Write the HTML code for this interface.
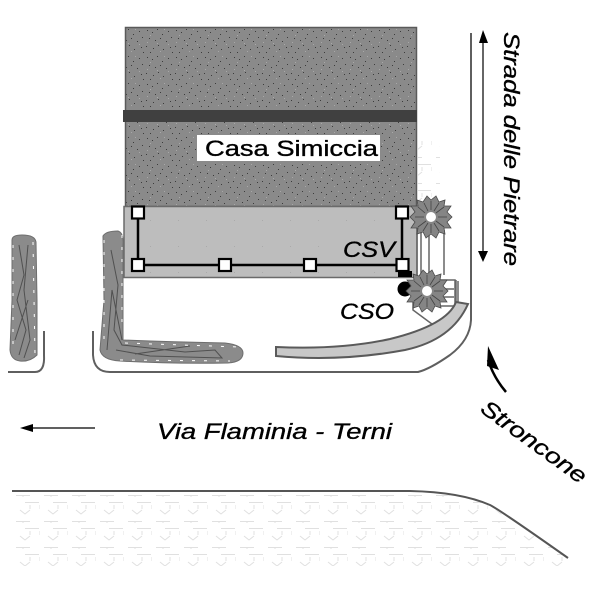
<!DOCTYPE html>
<html><head><meta charset="utf-8"><style>html,body{margin:0;padding:0;background:#fff}svg{display:block}text{font-family:"Liberation Sans",sans-serif;fill:#000;stroke:#000;stroke-width:.35px}</style></head><body>
<svg width="600" height="600" viewBox="0 0 600 600" xmlns="http://www.w3.org/2000/svg">
<defs>
<pattern id="spk" width="29" height="27" patternUnits="userSpaceOnUse">
<rect width="29" height="27" fill="#8a8a8a"/>
<g fill="#3c3c3c"><rect x="2" y="3" width="1" height="1"/><rect x="7" y="5" width="1" height="1"/><rect x="12" y="2" width="1" height="1"/><rect x="17" y="7" width="1" height="1"/><rect x="23" y="4" width="1" height="1"/><rect x="4" y="11" width="1" height="1"/><rect x="10" y="13" width="1" height="1"/><rect x="15" y="11" width="1" height="1"/><rect x="21" y="14" width="1" height="1"/><rect x="26" y="10" width="1" height="1"/><rect x="1" y="19" width="1" height="1"/><rect x="8" y="21" width="1" height="1"/><rect x="13" y="18" width="1" height="1"/><rect x="18" y="22" width="1" height="1"/><rect x="25" y="20" width="1" height="1"/><rect x="5" y="25" width="1" height="1"/><rect x="27" y="25" width="1" height="1"/></g>
<g fill="#a8a8a8"><rect x="5" y="8" width="1" height="1"/><rect x="19" y="2" width="1" height="1"/><rect x="12" y="16" width="1" height="1"/><rect x="23" y="17" width="1" height="1"/><rect x="2" y="15" width="1" height="1"/><rect x="15" y="24" width="1" height="1"/></g>
</pattern>
<pattern id="grs" x="12" y="495" width="28" height="26" patternUnits="userSpaceOnUse">
<g stroke="#e0e0e0" stroke-width="1" fill="none"><path d="M4 .5H18M11 0V2M-6 7.5H0M13 7.5H27M18 10V14M28 10V14M8 15L13 19L18 15"/></g>
</pattern>
<pattern id="dot" x="124" y="206" width="28" height="26" patternUnits="userSpaceOnUse">
<rect x="26" y="14" width="1" height="1" fill="#aaa"/>
</pattern>
<g id="tree" fill="#858585" stroke="#4a4a4a" stroke-width=".8">
<path d="M-4-21L0-17L5-21L8-15L14-17L13-11L20-11L16-5L21 0L16 5L20 11L13 11L14 17L8 15L5 21L0 17L-5 21L-8 15L-14 17L-13 11L-20 11L-16 5L-21 0L-16-5L-20-11L-13-11L-14-17L-8-15Z"/>
<circle r="5" fill="#fff" stroke="none"/>
<path d="M-13-10L-6-4M13-10L5-4M13 10L5 4M-13 10L-5 4M0-16V-7M0 16V7M-16 0H-7M16 0H7M-7-14L-3-6M8-14L3-6M-8 14L-3 6M8 14L3 6" fill="none" stroke="#444"/>
</g>
<g id="hd"><rect x="-6" y="-6" width="12" height="12" fill="#fff" stroke="#000" stroke-width="2.200"/></g>
</defs>
<rect width="600" height="600" fill="#fff"/>

<path d="M15 492H412Q460 494 490 506L566 557V568H15Z" fill="url(#grs)"/>
<rect x="0" y="566" width="600" height="34" fill="#fff"/>
<path d="M12 491H410Q460 492 490 505Q500 510 568 558" fill="none" stroke="#555" stroke-width="2"/>

<path d="M418 140H440V200H418Z" fill="url(#grs)"/>

<rect x="125.500" y="27.500" width="291" height="179" fill="url(#spk)" stroke="#5a5a5a" stroke-width="1.500"/>
<rect x="123" y="110" width="294" height="12" fill="#404040"/>
<rect x="197" y="135" width="183" height="26" fill="#fff"/>
<text x="205" y="156" font-size="22.500" textLength="173" lengthAdjust="spacingAndGlyphs">Casa Simiccia</text>

<rect x="124" y="206.500" width="293" height="71" fill="#bdbdbd" stroke="#6a6a6a" stroke-width="1.500"/>
<rect x="124" y="207" width="293" height="70" fill="url(#dot)"/>
<path d="M138 212V265H402M402 212V265" fill="none" stroke="#000" stroke-width="2.500"/>
<use href="#hd" x="138" y="212.500"/><use href="#hd" x="402" y="212.500"/>
<use href="#hd" x="138" y="265"/><use href="#hd" x="225" y="265"/><use href="#hd" x="310" y="265"/><use href="#hd" x="402.500" y="265"/>
<rect x="398" y="271" width="14" height="6" fill="#000"/>
<text x="343" y="257" font-size="22" font-style="italic" textLength="52" lengthAdjust="spacingAndGlyphs">CSV</text>
<text x="340" y="319" font-size="22" font-style="italic" textLength="54" lengthAdjust="spacingAndGlyphs">CSO</text>
<circle cx="405" cy="289" r="7.500" fill="#000"/>

<g fill="none" stroke="#666" stroke-width="1.500">
<path d="M417 207V278M421 210V278"/>
<path d="M429 230V275M444 230V275"/>
<path d="M413 300V310L440 330"/>
<path d="M440 280H455V308M456 280V306M440 289H454M440 297H454M440 306H454M458 281V303"/>
</g>
<use href="#tree" x="431" y="217"/>
<use href="#tree" x="427" y="291"/>

<path d="M276 347Q340 350 390 339Q447 325 456 302L468 304Q452 340 405 350Q340 362 276 356Z" fill="#c8c8c8" stroke="#5a5a5a" stroke-width="2"/>

<g fill="none" stroke="#5f5f5f" stroke-width="2">
<path d="M471 33V320Q470 340 450 355Q430 369 418 372H110Q94 372 93 355V331"/>
<path d="M8 372H35Q45 372 44 355V331"/>
</g>

<g fill="#8b8b8b" stroke="#6e6e6e">
<path d="M12 240Q12 235 22 235Q35 235 36 242L37 300L37 355Q30 362 20 361Q11 360 10 350L12 300Z"/>
<path d="M103 236Q106 231 118 231Q124 233 123 245L123 340Q170 342 225 343Q243 345 243 353Q243 362 228 363Q170 364 120 361Q102 360 100 350L104 300Z"/>
</g>
<g fill="none" stroke="#505050" stroke-width="1">
<path d="M19 245L24 275L17 300L26 330L19 355M28 245L24 290L30 340L24 358M15 340L28 300"/>
<path d="M111 250L118 285L114 330L122 345L185 352L215 350L222 358L150 356L116 350M107 350L112 290L122 340M135 354L190 346"/>
</g>
<g fill="none" stroke="#fff" stroke-width="1" stroke-dasharray="3 9">
<path d="M13 245L13 350M33 242L35 355"/>
<path d="M104 240L104 340M122 235L122 330M125 343L240 347M120 360L230 361"/>
</g>

<path d="M483 36V256" stroke="#000" stroke-width="1.200"/>
<path d="M483 30L479 43H488Z M483 262L478 251H488Z" fill="#000"/>
<text transform="translate(504,32) rotate(90)" font-size="22" font-style="italic" textLength="234" lengthAdjust="spacingAndGlyphs">Strada delle Pietrare</text>
<path d="M30 428H95" stroke="#000" stroke-width="1.200"/>
<path d="M20 428L33 424V432Z" fill="#000"/>
<text x="157" y="439" font-size="22.500" font-style="italic" textLength="235" lengthAdjust="spacingAndGlyphs">Via Flaminia - Terni</text>
<path d="M488 360Q494 378 506 392" fill="none" stroke="#000" stroke-width="2.500"/>
<path d="M488 346L499 370L487 366Z" fill="#000"/>
<text transform="translate(479,411) rotate(36)" font-size="22" font-style="italic" textLength="125" lengthAdjust="spacingAndGlyphs">Stroncone</text>
</svg>
</body></html>
